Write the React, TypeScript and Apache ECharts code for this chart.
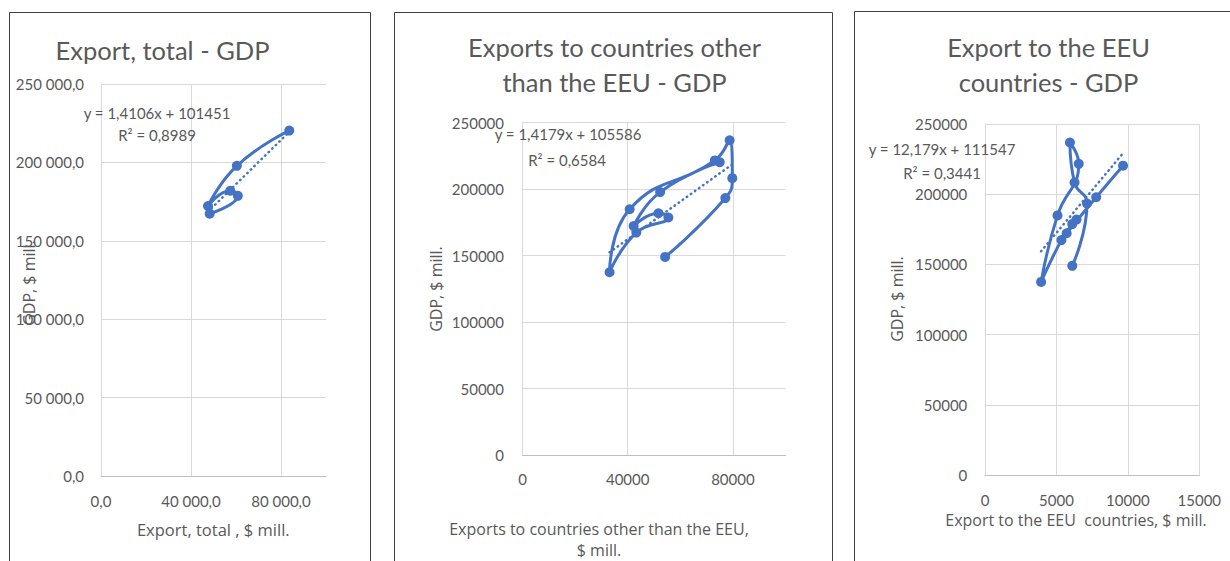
import React, { useEffect, useRef } from "react";
import * as echarts from "echarts";

// Years of the observations (2010–2022)
const years = [2010, 2011, 2012, 2013, 2014, 2015, 2016, 2017, 2018, 2019, 2020, 2021, 2022];
// GDP, $ mill.
const gdp = [149000, 193300, 208300, 236800, 221600, 184900, 137500, 167300, 178700, 181900, 172200, 197800, 220300];
// Exports to countries other than the EEU, $ mill.
const exportNonEEU = [54230, 77130, 79770, 78750, 73100, 40750, 33100, 43280, 55470, 51700, 42260, 52340, 74980];
// Export to the EEU countries, $ mill.
const exportEEU = [6108, 7141, 6267, 5944, 6563, 5074, 3926, 5351, 6108, 6405, 5716, 7782, 9663];

// Panel 1 only covers 2017–2022
const totalYears = [2017, 2018, 2019, 2020, 2021, 2022];
const exportTotal = [48300, 60820, 57460, 47560, 60380, 83670];

// Trend lines (slope, intercept) as printed on the charts
const trendTotal = [1.4106, 101451];
const trendNonEEU = [1.4179, 105586];
const trendEEU = [12.179, 111547];

const trendTotalText = ["y = 1,4106x + 101451", "R² = 0,8989"];
const trendNonEEUText = ["y = 1,4179x + 105586", "R² = 0,6584"];
const trendEEUText = ["y = 12,179x + 111547", "R² = 0,3441"];

const yTicks = [0, 50000, 100000, 150000, 200000, 250000];

const FONT = "Lato";
const AXFONT = "'Open Sans'";
const TXT = "#595959";
const BLUE = "#4472C4";
const GRID = "#D9D9D9";

const fmtSpace = (v: number) =>
  String(Math.round(v)).replace(/\B(?=(\d{3})+(?!\d))/g, " ") + ",0";

function pairs(xs: number[], ys: number[]) {
  return xs.map((x, i) => [x, ys[i]]);
}

function trendPts(xs: number[], coef: number[]) {
  const mn = Math.min(...xs);
  const mx = Math.max(...xs);
  return [
    [mn, coef[0] * mn + coef[1]],
    [mx, coef[0] * mx + coef[1]],
  ];
}

export default function App() {
  const ref = useRef<HTMLDivElement>(null);

  useEffect(() => {
    if (!ref.current) return;
    const chart = echarts.init(ref.current, undefined, { renderer: "svg" });

    const gdpTotal = totalYears.map((y) => gdp[years.indexOf(y)]);

    const xAxisBase = (idx: number, max: number, interval: number, fmt: any, margin: number, showMax: boolean) => ({
      type: "value",
      gridIndex: idx,
      min: 0,
      max,
      interval,
      axisLine: { show: true, lineStyle: { color: "#BFBFBF", width: 1 } },
      axisTick: { show: false },
      axisLabel: {
        show: true,
        color: TXT,
        fontFamily: FONT,
        fontSize: 15,
        margin,
        formatter: fmt,
        showMaxLabel: showMax,
        showMinLabel: true,
      },
      splitLine: { show: true, showMaxLine: showMax, lineStyle: { color: GRID, width: 1 } },
    });

    const yAxisBase = (idx: number, fmt: any, margin: number) => ({
      type: "value",
      gridIndex: idx,
      min: yTicks[0],
      max: yTicks[yTicks.length - 1],
      interval: yTicks[1] - yTicks[0],
      axisLine: { show: true, lineStyle: { color: GRID, width: 1 } },
      axisTick: { show: false },
      axisLabel: { color: TXT, fontFamily: FONT, fontSize: 15, margin, formatter: fmt },
      splitLine: { show: true, lineStyle: { color: GRID, width: 1 } },
    });

    const dataSeries = (idx: number, data: number[][]) => ({
      type: "line",
      xAxisIndex: idx,
      yAxisIndex: idx,
      data,
      smooth: 0.5,
      symbol: "circle",
      symbolSize: 10,
      itemStyle: { color: BLUE },
      lineStyle: { color: BLUE, width: 3 },
      z: 3,
    });

    const trendSeries = (idx: number, data: number[][]) => ({
      type: "line",
      xAxisIndex: idx,
      yAxisIndex: idx,
      data,
      symbol: "none",
      lineStyle: { color: BLUE, width: 2.5, type: [0.5, 4.5], cap: "round" },
      z: 2,
    });

    const txt = (text: string, x: number, y: number, size: number, family: string = FONT, extra: any = {}, lineHeight?: number) => ({
      type: "text",
      x,
      y,
      z: 10,
      ...extra,
      style: {
        text,
        fill: TXT,
        font: `${size}px ${family}`,
        align: "center",
        verticalAlign: "middle",
        ...(lineHeight ? { lineHeight } : {}),
      },
    });

    const frame = (x: number, y: number, w: number) => ({
      type: "rect",
      shape: { x, y, width: w, height: 700 },
      style: { fill: "none", stroke: "#404040", lineWidth: 1 },
      z: 0,
    });

    const ROT = { rotation: Math.PI / 2 };

    chart.setOption({
      animation: false,
      backgroundColor: "#ffffff",
      grid: [
        { left: 101, top: 84, width: 225, height: 392, outerBoundsMode: "none" },
        { left: 522.5, top: 122.7, width: 263, height: 332.3, outerBoundsMode: "none" },
        { left: 985, top: 124, width: 214.3, height: 351, outerBoundsMode: "none" },
      ],
      xAxis: [
        xAxisBase(0, 100000, 40000, fmtSpace, 17, false),
        xAxisBase(1, 100000, 40000, (v: number) => String(v), 16, false),
        xAxisBase(2, 15000, 5000, (v: number) => String(v), 17, true),
      ],
      yAxis: [
        yAxisBase(0, fmtSpace, 17),
        yAxisBase(1, (v: number) => String(v), 18.5),
        yAxisBase(2, (v: number) => String(v), 17.7),
      ],
      series: [
        dataSeries(0, pairs(exportTotal, gdpTotal)),
        trendSeries(0, trendPts(exportTotal, trendTotal)),
        dataSeries(1, pairs(exportNonEEU, gdp)),
        trendSeries(1, trendPts(exportNonEEU, trendNonEEU)),
        dataSeries(2, pairs(exportEEU, gdp)),
        trendSeries(2, trendPts(exportEEU, trendEEU)),
      ],
      graphic: [
        frame(9.5, 12.5, 361),
        frame(394.5, 12.5, 438),
        frame(854.5, 11.5, 420),
        // titles
        txt("Export, total - GDP", 162.5, 50, 25.5),
        txt("Exports to countries other\nthan the EEU - GDP", 614.5, 64.5, 25.5, FONT, {}, 35),
        txt("Export to the EEU\ncountries - GDP", 1048.5, 64.5, 25.5, FONT, {}, 35),
        // trend labels
        txt(trendTotalText[0], 157, 113, 15),
        txt(trendTotalText[1], 157, 135, 15),
        txt(trendNonEEUText[0], 568, 134, 15),
        txt(trendNonEEUText[1], 567, 160, 15),
        txt(trendEEUText[0], 942, 149.3, 15),
        txt(trendEEUText[1], 942, 172.7, 15),
        // x axis titles
        txt("Export, total , $ mill.", 213.3, 529.3, 16.5, AXFONT),
        txt("Exports to countries other than the EEU,\n$ mill.", 599, 539.5, 16, AXFONT, {}, 21),
        txt("Export to the EEU  countries, $ mill.", 1076, 520, 16, AXFONT),
        // y axis titles
        txt("GDP, $ mill.", 29, 283, 16, AXFONT, ROT),
        txt("GDP, $ mill.", 436, 289, 16, AXFONT, ROT),
        txt("GDP, $ mill.", 897, 299, 16, AXFONT, ROT),
      ],
    });

    return () => chart.dispose();
  }, []);

  return (
    <div
      ref={ref}
      style={{ position: "fixed", left: 0, top: 0, width: 1230, height: 561, background: "#fff" }}
    />
  );
}
